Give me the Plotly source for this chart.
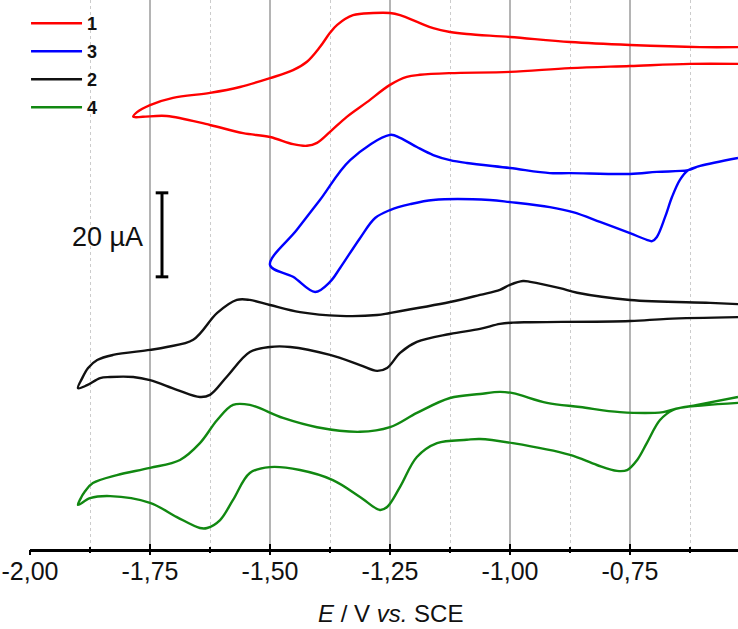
import plotly.graph_objects as go

# ---------------- data (E in V vs. SCE, current in µA, offset per curve) ----------------
E1 = [-0.525, -0.604, -0.75, -0.875, -1.0, -1.090, -1.125, -1.160, -1.1875, -1.229, -1.25, -1.285,
      -1.327, -1.360, -1.375, -1.396, -1.423, -1.452, -1.5, -1.5625, -1.625, -1.702, -1.75, -1.777,
      -1.785,
      -1.765, -1.715, -1.625, -1.556, -1.5, -1.452, -1.423, -1.402, -1.375, -1.340, -1.298, -1.25,
      -1.215, -1.1875, -1.125, -1.0, -0.875, -0.75, -0.625, -0.525]
I1 = [119.5, 119.5, 120.0, 120.7, 121.9, 122.6, 123.1, 124.0, 125.2, 127.1, 127.6, 127.6,
      127.1, 124.8, 122.9, 119.5, 116.0, 114.0, 112.1, 110.0, 108.6, 107.4, 105.7, 104.0,
      102.9,
      102.9, 103.1, 100.95, 99.0, 98.1, 96.4, 96.0, 96.7, 99.3, 102.9, 106.4, 110.5,
      112.4, 112.9, 113.3, 113.6, 114.5, 115.0, 115.5, 115.5]

E3 = [-0.525, -0.604, -0.629, -0.694, -0.75, -0.875, -0.917, -1.0, -1.090, -1.125, -1.160, -1.194,
      -1.229, -1.25, -1.333, -1.396, -1.444, -1.5,
      -1.452, -1.406, -1.375, -1.354, -1.3125, -1.281, -1.25, -1.208, -1.160, -1.042, -1.0,
      -0.917, -0.869, -0.8125, -0.75, -0.715, -0.704, -0.694, -0.677, -0.6625, -0.646, -0.629,
      -0.604, -0.525]
I3 = [93.1, 91.2, 90.2, 89.8, 89.3, 89.5, 89.5, 90.7, 91.9, 92.6, 93.8, 95.7,
      97.9, 98.6, 92.6, 83.1, 76.0, 67.6,
      64.8, 61.2, 63.6, 66.9, 74.0, 78.8, 80.7, 82.1, 83.1, 83.1, 82.6,
      81.4, 80.2, 77.9, 75.2, 73.6, 73.3, 74.3, 79.0, 83.8, 87.9, 90.2,
      91.2, 93.1]

E2 = [-0.525, -0.583, -0.75, -0.860, -0.896, -0.958, -0.973, -1.0, -1.021, -1.0625, -1.125, -1.25,
      -1.277, -1.354, -1.4375, -1.5, -1.542, -1.569, -1.610, -1.660, -1.715, -1.75, -1.827, -1.860,
      -1.879, -1.892, -1.9,
      -1.881, -1.854, -1.833, -1.785, -1.75, -1.694, -1.646, -1.625, -1.590, -1.542, -1.5, -1.458,
      -1.375, -1.3125, -1.277, -1.256, -1.229, -1.194, -1.125, -1.0625, -1.021, -0.994, -0.958,
      -0.75, -0.673, -0.525]
I2 = [58.3, 58.6, 59.3, 61.0, 62.1, 63.6, 63.8, 62.9, 61.7, 60.5, 58.8, 56.2,
      55.7, 55.5, 56.4, 58.1, 59.3, 59.3, 56.2, 49.8, 48.1, 47.4, 46.2, 45.0,
      43.1, 40.5, 38.3,
      39.0, 40.7, 40.95, 40.95, 40.2, 37.9, 36.2, 36.7, 41.0, 46.9, 48.1, 48.1,
      46.2, 43.8, 42.4, 43.1, 46.7, 49.3, 51.2, 52.4, 53.6, 53.9, 54.0,
      54.3, 54.8, 55.2]

E4 = [-0.525, -0.646, -0.681, -0.771, -0.854, -0.923, -0.994, -1.021, -1.0625, -1.125, -1.194,
      -1.25, -1.3125, -1.402, -1.473, -1.542, -1.577, -1.610, -1.646, -1.6875, -1.75, -1.819,
      -1.869, -1.885, -1.896, -1.9,
      -1.875, -1.833, -1.75, -1.694, -1.646, -1.631, -1.604, -1.577, -1.542, -1.5, -1.4375,
      -1.369, -1.3125, -1.271, -1.256, -1.229, -1.194, -1.152, -1.090, -1.0625, -0.994, -0.875,
      -0.819, -0.777, -0.756, -0.735, -0.715, -0.6875, -0.660, -0.610, -0.525]
I4 = [34.8, 33.6, 32.6, 32.6, 33.8, 34.8, 37.1, 37.4, 36.9, 35.95, 32.4,
      29.0, 27.9, 29.0, 31.2, 34.3, 34.3, 30.7, 25.2, 21.2, 19.3, 17.6,
      15.7, 13.8, 11.7, 10.5,
      12.1, 12.6, 11.0, 7.6, 5.0, 5.0, 6.9, 11.7, 18.1, 19.5, 18.8,
      16.4, 12.4, 9.3, 10.0, 14.8, 21.9, 25.2, 26.0, 26.2, 25.2, 22.4,
      20.0, 18.6, 18.8, 21.2, 25.2, 30.7, 33.1, 34.3, 36.2]

series = [("1", E1, I1, "#ff0000"),
          ("3", E3, I3, "#0000ff"),
          ("2", E2, I2, "#111111"),
          ("4", E4, I4, "#118811")]

major_ticks = [-2.00, -1.75, -1.50, -1.25, -1.00, -0.75]
major_labels = ["-2,00", "-1,75", "-1,50", "-1,25", "-1,00", "-0,75"]
minor_ticks = [-1.875, -1.625, -1.375, -1.125, -0.875, -0.625]
grid_ticks = [-1.75, -1.50, -1.25, -1.00, -0.75]

scale_E = -1.725
scale_bottom = 64.8
scale_value = 20.0  # µA

x_range = [-2.0, -0.525]
y_range = [0, 130.71]
x_title = "<i>E</i> / V <i>vs.</i> SCE"

FONT = "Arial, Liberation Sans, sans-serif"

fig = go.Figure()
for name, E, I, col in series:
    fig.add_trace(go.Scatter(x=E, y=I, mode="lines", name="<b>%s</b>" % name,
                             legendgroup=name,
                             line=dict(color=col, width=2.4, shape="spline", smoothing=1.0),
                             hoverinfo="skip"))

# scale bar
fig.add_trace(go.Scatter(x=[scale_E, scale_E], y=[scale_bottom, scale_bottom + scale_value],
                         mode="lines+markers", showlegend=False, hoverinfo="skip",
                         line=dict(color="black", width=3),
                         marker=dict(symbol="line-ew-open", size=9,
                                     line=dict(color="black", width=3))))

# dummy traces for overlay axes
for ax in ("x2", "x3", "x4"):
    fig.add_trace(go.Scatter(x=[None], y=[None], xaxis=ax, showlegend=False, hoverinfo="skip"))

fig.add_annotation(x=-1.76, y=74.3, text="20 µA", showarrow=False, xanchor="right",
                   yanchor="middle", font=dict(family=FONT, size=27, color="#111111"))

# x-axis title
fig.add_annotation(x=-1.25, xref="x", y=-64 / 549, yref="paper", text=x_title,
                   showarrow=False, xanchor="center", yanchor="middle",
                   font=dict(family=FONT, size=24, color="#111111"))

fig.update_layout(
    width=738, height=629,
    margin=dict(l=30, r=0, t=0, b=80, autoexpand=False),
    paper_bgcolor="white", plot_bgcolor="white",
    showlegend=True,
    legend=dict(x=-0.0056, y=1 - 5 / 549, xanchor="left", yanchor="top",
                bgcolor="rgba(0,0,0,0)", itemwidth=51, tracegroupgap=1.6,
                font=dict(family=FONT, size=18, color="#111111")),
    # labels, axis line, dotted minor grid
    xaxis=dict(range=x_range, tickmode="array", tickvals=major_ticks, ticktext=major_labels,
               ticks="", ticklabelstandoff=-2, automargin=False,
               showline=True, linecolor="black", linewidth=2.5,
               showgrid=False, zeroline=False,
               tickfont=dict(family=FONT, size=25, color="#111111"),
               minor=dict(tickmode="array", tickvals=minor_ticks, ticks="", showgrid=True,
                          gridcolor="#cccccc", gridwidth=1, griddash="dot")),
    # outside ticks
    xaxis2=dict(range=x_range, overlaying="x", anchor="y", side="bottom", automargin=False,
                tickmode="array", tickvals=major_ticks, ticks="outside", ticklen=5,
                tickwidth=2, tickcolor="black", showticklabels=False, showgrid=False,
                showline=False, zeroline=False,
                minor=dict(tickmode="array", tickvals=minor_ticks, ticks="outside", ticklen=3,
                           tickwidth=2, tickcolor="black", showgrid=False)),
    # inside ticks
    xaxis3=dict(range=x_range, overlaying="x", anchor="y", side="bottom", automargin=False,
                tickmode="array", tickvals=major_ticks, ticks="inside", ticklen=5,
                tickwidth=2, tickcolor="black", showticklabels=False, showgrid=False,
                showline=False, zeroline=False,
                minor=dict(tickmode="array", tickvals=minor_ticks, ticks="inside", ticklen=2,
                           tickwidth=2, tickcolor="black", showgrid=False)),
    # solid major grid
    xaxis4=dict(range=x_range, overlaying="x", anchor="y", side="bottom", automargin=False,
                tickmode="array", tickvals=grid_ticks, ticks="", showticklabels=False,
                showgrid=True, gridcolor="#b4b4b4", gridwidth=1.6,
                showline=False, zeroline=False),
    yaxis=dict(range=y_range, visible=False, showgrid=False, zeroline=False, automargin=False),
)

fig.write_html("out.html")
